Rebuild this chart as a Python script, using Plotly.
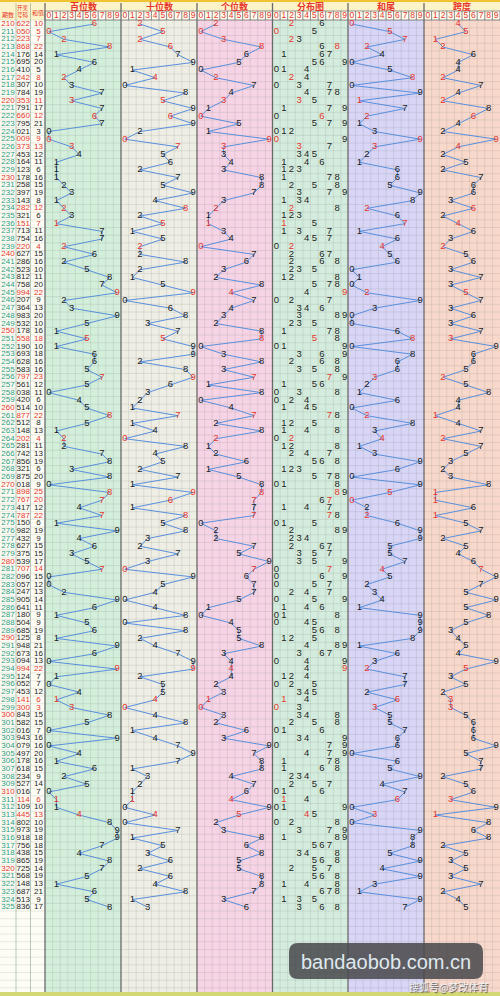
import plotly.graph_objects as go

# ---------------- data ----------------
periods = list(range(210, 326))
draws = ["622", "050", "223", "868", "176", "695", "410", "242", "307", "784",
         "353", "791", "660", "795", "021", "009", "373", "453", "164", "123",
         "178", "258", "397", "143", "282", "321", "151", "713", "754", "220",
         "627", "286", "523", "812", "758", "994", "207", "364", "983", "532",
         "178", "558", "190", "693", "628", "583", "797", "561", "038", "420",
         "514", "877", "512", "148", "202", "281", "742", "856", "321", "875",
         "018", "898", "767", "417", "787", "150", "982", "432", "627", "375",
         "539", "707", "096", "057", "247", "905", "641", "180", "504", "685",
         "125", "948", "673", "094", "994", "124", "052", "453", "141", "300",
         "843", "582", "016", "943", "079", "497", "178", "618", "234", "527",
         "016", "114", "109", "445", "802", "973", "918", "756", "438", "865",
         "725", "568", "148", "687", "513", "836"]
sums = [10, 5, 7, 22, 14, 20, 5, 8, 10, 19,
        11, 17, 12, 21, 3, 9, 13, 12, 11, 6,
        16, 15, 19, 8, 12, 6, 7, 11, 16, 4,
        15, 16, 10, 11, 20, 22, 9, 13, 20, 10,
        16, 18, 10, 18, 16, 16, 23, 12, 11, 6,
        10, 22, 8, 13, 4, 11, 13, 19, 6, 20,
        9, 25, 20, 12, 22, 6, 19, 9, 15, 15,
        17, 14, 15, 12, 13, 14, 11, 9, 9, 19,
        8, 21, 16, 13, 22, 7, 7, 12, 6, 3,
        15, 15, 7, 16, 16, 20, 16, 15, 9, 14,
        7, 6, 10, 13, 10, 19, 18, 18, 15, 19,
        14, 19, 13, 21, 9, 17]
section_titles = ["百位数", "十位数", "个位数", "分布图", "和尾", "跨度"]
digit_labels = [str(d) for d in range(10)]
left_headers = ["期数", "开奖<br>号码", "和值"]

# ---------------- layout constants ----------------
W, H = 500, 996
ROW_Y0, ROW_H = 24.0, 7.68
SEC_X0 = [45, 121, 197, 272.5, 348, 424]
CELL = 7.6
SEC_BG = ["#d3efdb", "#eeeee5", "#f6d4e5", "#d4ecdd", "#d8d5f6", "#f8d8cb"]
RED = "#e6352b"
BLACK = "#1c1c1c"
TEAL = "#2c9c80"
LINE = "#5a8fdc"
DFONT = "Liberation Sans, Arial, sans-serif"
CJK = "Noto Sans CJK SC, sans-serif"

n = len(draws)
ys = [ROW_Y0 + i * ROW_H for i in range(n)]
digits = [[int(c) for c in s] for s in draws]
group3 = [len(set(d)) < 3 for d in digits]
tails = [s % 10 for s in sums]
spans = [max(d) - min(d) for d in digits]


def cx(sec, d):
    return SEC_X0[sec] + CELL * (d + 0.5)


fig = go.Figure()
shapes = []

# backgrounds
shapes.append(dict(type="rect", x0=0, x1=W, y0=0, y1=H, fillcolor="#fdfdf5", line_width=0, layer="below"))
for i, x0 in enumerate(SEC_X0):
    x1 = SEC_X0[i + 1] if i + 1 < len(SEC_X0) else W
    shapes.append(dict(type="rect", x0=x0, x1=x1, y0=20, y1=992, fillcolor=SEC_BG[i], line_width=0, layer="below"))
# header bands
shapes.append(dict(type="rect", x0=0, x1=W, y0=0, y1=20, fillcolor="#fcf3c8", line_width=0, layer="below"))
shapes.append(dict(type="rect", x0=0, x1=W, y0=0, y1=2, fillcolor="#f1c232", line_width=0, layer="below"))
shapes.append(dict(type="rect", x0=SEC_X0[0], x1=W, y0=11, y1=20, fillcolor="#fffdf2",
                   line=dict(color="#777", width=0.8), layer="below"))
shapes.append(dict(type="rect", x0=0, x1=W, y0=992, y1=H, fillcolor="#d3d873", line_width=0, layer="below"))

# grid (faint)
gx, gy = [], []
for i, x0 in enumerate(SEC_X0):
    for k in range(1, 10):
        xv = x0 + CELL * k
        gx += [xv, xv, None]
        gy += [11, 992, None]
k = 0
while True:
    yv = ROW_Y0 - ROW_H / 2 + k * ROW_H
    if yv > 992:
        break
    gx += [0, W, None]
    gy += [yv, yv, None]
    k += 1
fig.add_trace(go.Scatter(x=gx, y=gy, mode="lines", line=dict(color="rgba(120,130,120,0.28)", width=0.6),
                         hoverinfo="skip"))

# column separators
sx, sy = [], []
for xv in [16, 30.5]:
    sx += [xv, xv, None]
    sy += [3, 992, None]
fig.add_trace(go.Scatter(x=sx, y=sy, mode="lines", line=dict(color="rgba(110,140,120,0.6)", width=0.8),
                         hoverinfo="skip"))
sx, sy = [], []
for xv in SEC_X0:
    sx += [xv, xv, None]
    sy += [3, 992, None]
fig.add_trace(go.Scatter(x=sx, y=sy, mode="lines", line=dict(color="#6a6a6a", width=1.3), hoverinfo="skip"))

# left columns
fig.add_trace(go.Scatter(x=[8] * n, y=ys, mode="text", text=[str(p) for p in periods],
                         textfont=dict(family=DFONT, size=8, color=[RED if p % 10 == 0 else TEAL for p in periods]),
                         hoverinfo="skip"))
fig.add_trace(go.Scatter(x=[23.3] * n, y=ys, mode="text", text=draws,
                         textfont=dict(family=DFONT, size=8, color=[RED if g else BLACK for g in group3]),
                         hoverinfo="skip"))
fig.add_trace(go.Scatter(x=[38.5] * n, y=ys, mode="text", text=[str(s) for s in sums],
                         textfont=dict(family=DFONT, size=8, color=[RED if g else BLACK for g in group3]),
                         hoverinfo="skip"))

colors = [RED if g else BLACK for g in group3]

# positional trend sections (hundreds, tens, units)
for sec in range(3):
    vals = [d[sec] for d in digits]
    fig.add_trace(go.Scatter(x=[cx(sec, v) for v in vals], y=ys, mode="lines+text",
                             text=[str(v) for v in vals],
                             line=dict(color=LINE, width=1),
                             textfont=dict(family=DFONT, size=9.5, color=colors),
                             hoverinfo="skip"))

# distribution section
dx, dy, dt, dc = [], [], [], []
for i, d in enumerate(digits):
    for v in sorted(set(d)):
        dx.append(cx(3, v))
        dy.append(ys[i])
        dt.append(str(v))
        dc.append(RED if d.count(v) > 1 else BLACK)
fig.add_trace(go.Scatter(x=dx, y=dy, mode="text", text=dt,
                         textfont=dict(family=DFONT, size=9.5, color=dc), hoverinfo="skip"))

# sum tail and span sections
for sec, vals in [(4, tails), (5, spans)]:
    fig.add_trace(go.Scatter(x=[cx(sec, v) for v in vals], y=ys, mode="lines+text",
                             text=[str(v) for v in vals],
                             line=dict(color=LINE, width=1),
                             textfont=dict(family=DFONT, size=9.5, color=colors),
                             hoverinfo="skip"))

# header digit row
hx, hy, ht = [], [], []
vx, vy = [], []
for sec in range(6):
    for d in range(10):
        hx.append(cx(sec, d))
        hy.append(15.6)
        ht.append(digit_labels[d])
        if d > 0:
            xv = SEC_X0[sec] + CELL * d
            vx += [xv, xv, None]
            vy += [11, 20, None]
fig.add_trace(go.Scatter(x=vx, y=vy, mode="lines", line=dict(color="#666", width=0.7), hoverinfo="skip"))
fig.add_trace(go.Scatter(x=hx, y=hy, mode="text", text=ht,
                         textfont=dict(family=DFONT, size=8.5, color=RED), hoverinfo="skip"))

annotations = []
for sec, title in enumerate(section_titles):
    x1 = SEC_X0[sec + 1] if sec + 1 < len(SEC_X0) else W
    annotations.append(dict(x=(SEC_X0[sec] + x1) / 2, y=6.6, xref="x", yref="y", text=title, showarrow=False,
                            font=dict(family=CJK, size=9, color=RED, weight="bold")))
annotations.append(dict(x=8, y=14, xref="x", yref="y", text=left_headers[0], showarrow=False,
                        font=dict(family=CJK, size=6, color=RED)))
annotations.append(dict(x=23.3, y=11, xref="x", yref="y", text=left_headers[1], showarrow=False,
                        font=dict(family=CJK, size=5.5, color=RED)))
annotations.append(dict(x=38, y=12, xref="x", yref="y", text=left_headers[2], showarrow=False,
                        font=dict(family=CJK, size=6, color=RED)))

# watermark
bx0, bx1, by0, by1, r = 289, 483, 943, 979, 9
path = (f"M {bx0 + r},{by0} L {bx1 - r},{by0} Q {bx1},{by0} {bx1},{by0 + r} "
        f"L {bx1},{by1 - r} Q {bx1},{by1} {bx1 - r},{by1} L {bx0 + r},{by1} "
        f"Q {bx0},{by1} {bx0},{by1 - r} L {bx0},{by0 + r} Q {bx0},{by0} {bx0 + r},{by0} Z")
shapes.append(dict(type="path", path=path, fillcolor="rgba(72,72,76,0.86)", line_width=0, layer="above"))
annotations.append(dict(x=(bx0 + bx1) / 2, y=961.5, xref="x", yref="y", text="bandaobob.com.cn", showarrow=False,
                        font=dict(family="Liberation Sans, Arial", size=20, color="#dfe8ee")))
annotations.append(dict(x=448, y=986, xref="x", yref="y", text="搜狐号@梦改体育", showarrow=False,
                        font=dict(family=CJK, size=10, color="#f2f2f2", shadow="1px 1px 1px #444")))

fig.update_layout(
    width=W, height=H, margin=dict(l=0, r=0, t=0, b=0),
    paper_bgcolor="white", plot_bgcolor="white", showlegend=False,
    xaxis=dict(range=[0, W], visible=False, fixedrange=True),
    yaxis=dict(range=[H, 0], visible=False, fixedrange=True),
    shapes=shapes, annotations=annotations,
)

fig.write_html("out.html")
